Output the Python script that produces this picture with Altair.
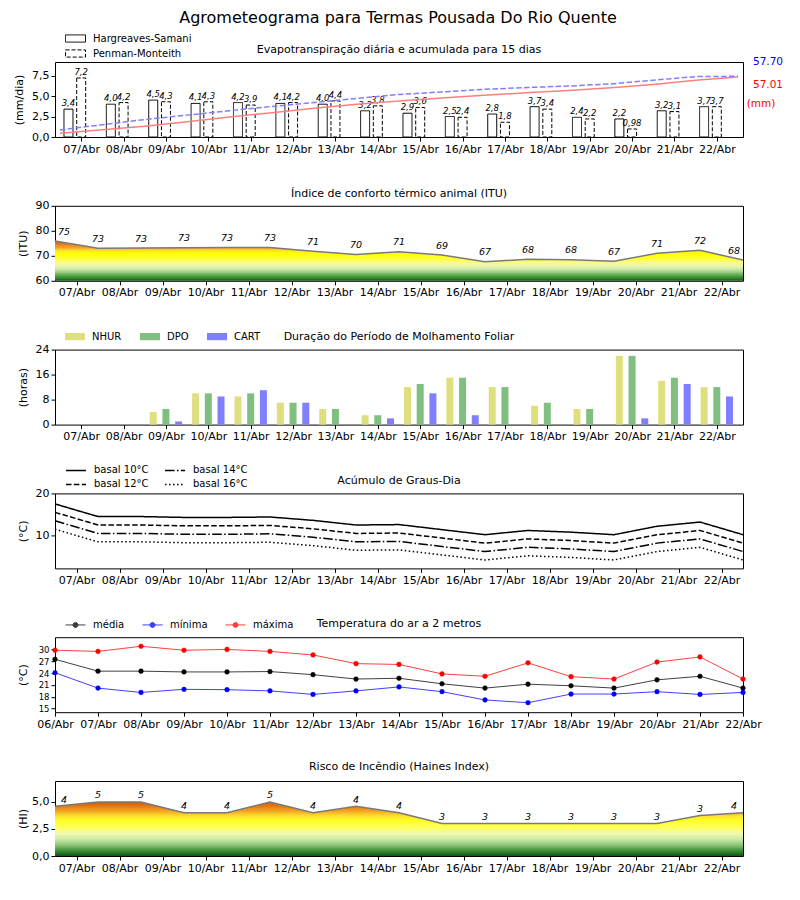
import json
import altair as alt
import pandas as pd

# ---------------- data ----------------
TITULO = "Agrometeograma para Termas Pousada Do Rio Quente"
DIAS = ["07/Abr", "08/Abr", "09/Abr", "10/Abr", "11/Abr", "12/Abr", "13/Abr", "14/Abr",
        "15/Abr", "16/Abr", "17/Abr", "18/Abr", "19/Abr", "20/Abr", "21/Abr", "22/Abr"]
DIAS_T = ["06/Abr"] + DIAS

T1 = "Evapotranspiração diária e acumulada para 15 dias"
ET_SERIES = ["Hargreaves-Samani", "Penman-Monteith"]
ET_HS = [3.4, 4.0, 4.5, 4.1, 4.2, 4.1, 4.0, 3.2, 2.9, 2.5, 2.8, 3.7, 2.4, 2.2, 3.2, 3.7]
ET_PM = [7.2, 4.2, 4.3, 4.3, 3.9, 4.2, 4.4, 3.8, 3.6, 2.4, 1.8, 3.4, 2.2, 0.98, 3.1, 3.7]
ACUM_HS = [3.6, 6.8, 10.2, 14.5, 18.9, 23.1, 27.3, 31.2, 34.3, 37.0, 39.6, 42.0, 44.1, 46.8, 50.0, 54.0, 57.01]
ACUM_PM = [6.7, 11.7, 16.6, 20.8, 25.0, 29.1, 32.7, 36.7, 40.4, 42.8, 45.3, 47.0, 48.4, 50.5, 54.0, 57.4, 57.70]
TOTAL_PM = "57.70"
TOTAL_HS = "57.01"
UNIDADE = "(mm)"

T2 = "Índice de conforto térmico animal (ITU)"
ITU = [75.9, 73.0, 73.1, 73.2, 73.3, 73.3, 71.8, 70.5, 71.6, 70.3, 67.6, 68.6, 68.4, 67.8, 71.0, 72.2, 68.3]
ITU_ROT = [75, 73, 73, 73, 73, 73, 71, 70, 71, 69, 67, 68, 68, 67, 71, 72, 68]

T3 = "Duração do Período de Molhamento Foliar"
MOLH_SERIES = ["NHUR", "DPO", "CART"]
NHUR = [0, 0, 4, 10, 9, 7, 5, 3, 12, 15, 12, 6, 5, 22, 14, 12]
DPO = [0, 0, 5, 10, 10, 7, 5, 3, 13, 15, 12, 7, 5, 22, 15, 12]
CART = [0, 0, 1, 9, 11, 7, 0, 2, 10, 3, 0, 0, 0, 2, 13, 9]

T4 = "Acúmulo de Graus-Dia"
GD_SERIES = ["basal 10°C", "basal 12°C", "basal 14°C", "basal 16°C"]
GD10 = [17.5, 14.5, 14.5, 14.3, 14.3, 14.4, 13.6, 12.5, 12.6, 11.4, 10.2, 11.2, 10.8, 10.2, 12.2, 13.2, 10.2]
GD12 = [15.5, 12.5, 12.5, 12.3, 12.3, 12.4, 11.6, 10.5, 10.6, 9.4, 8.2, 9.2, 8.8, 8.2, 10.2, 11.2, 8.2]
GD14 = [13.5, 10.5, 10.5, 10.3, 10.3, 10.4, 9.6, 8.5, 8.6, 7.4, 6.2, 7.2, 6.8, 6.2, 8.2, 9.2, 6.2]
GD16 = [11.5, 8.5, 8.5, 8.3, 8.3, 8.4, 7.6, 6.5, 6.6, 5.4, 4.2, 5.2, 4.8, 4.2, 6.2, 7.2, 4.2]

T5 = "Temperatura do ar a 2 metros"
TEMP_SERIES = ["média", "mínima", "máxima"]
T_MED = [27.5, 24.5, 24.5, 24.3, 24.3, 24.4, 23.6, 22.5, 22.7, 21.3, 20.2, 21.2, 20.8, 20.2, 22.3, 23.2, 20.2]
T_MIN = [24.1, 20.2, 19.1, 19.9, 19.8, 19.5, 18.6, 19.5, 20.5, 19.3, 17.2, 16.5, 18.7, 18.7, 19.3, 18.6, 19.1]
T_MAX = [29.8, 29.5, 30.8, 29.8, 30.0, 29.5, 28.6, 26.4, 26.2, 23.8, 23.2, 26.6, 23.1, 22.5, 26.8, 28.1, 22.5]

T6 = "Risco de Incêndio (Haines Index)"
HAINES = [4.6, 5.0, 5.0, 4.0, 4.0, 5.0, 4.0, 4.6, 4.0, 3.0, 3.0, 3.0, 3.0, 3.0, 3.0, 3.75, 4.0]
HAINES_ROT = [4, 5, 5, 4, 4, 5, 4, 4, 4, 3, 3, 3, 3, 3, 3, 3, 4]

# ---------------- style ----------------
FONT = "DejaVu Sans"
W, H = 688, 75
RECT = "M-2,-0.72H2V0.72H-2Z"
LINHA = "M-2,0H2"
LINE_DOT = "M-2,0H2M-0.5,0A0.5,0.5,0,1,0,0.5,0A0.5,0.5,0,1,0,-0.5,0Z"
ITU_CORES = [(60, "#0b5a0b"), (61, "#2e862e"), (62.2, "#5aa64a"), (63.4, "#98cc80"),
             (64.6, "#cce8a6"), (66, "#ecf7b0"), (67.5, "#fafb80"), (69, "#ffff30"),
             (71, "#ffff00"), (71.6, "#fff01a"), (72.4, "#fcd22e"), (73.2, "#f3a530"),
             (74.5, "#e8801c"), (75.9, "#d25a0a")]
HAINES_CORES = [(0, "#0b5a0b"), (0.5, "#3f8f3a"), (1.0, "#8cc478"), (1.5, "#c8e6a0"),
                (2.0, "#eef8b8"), (2.6, "#ffff60"), (3.3, "#ffff20"), (3.7, "#fde030"),
                (4.2, "#f2a020"), (4.6, "#e47a14"), (5.0, "#cc5a08")]

N = len(DIAS)
idx17 = list(range(N + 1))
COMMA = "replace(format(datum.value, '.1f'), '.', ',')"


def x_enc(field="x", temp=False):
    if temp:
        vals = list(range(len(DIAS_T)))
        expr = json.dumps(DIAS_T) + "[round(datum.value)]"
    else:
        vals = [i + 0.5 for i in range(N)]
        expr = json.dumps(DIAS) + "[floor(datum.value)]"
    return alt.X(f"{field}:Q", scale=alt.Scale(domain=[0, N], nice=False, zero=False),
                 axis=alt.Axis(title=None, values=vals, labelExpr=expr, grid=False, domain=False,
                               labelFlush=False, labelOverlap=False, tickSize=4, tickColor="black",
                               labelFontSize=11, labelColor="black", labelPadding=2, labelFont=FONT))


def y_axis(title, values, comma=False, fs=11, tx=-32):
    kw = dict(title=title, values=values, grid=False, domain=False, tickSize=4, tickColor="black",
              labelFontSize=fs, labelColor="black", labelPadding=2, labelFont=FONT,
              titleFontSize=11, titleFontWeight="normal", titleColor="black", titleFont=FONT,
              titleX=tx, titleBaseline="middle")
    if comma:
        kw["labelExpr"] = COMMA
    return alt.Axis(**kw)


def texto(txt, xpx, ypx, color="black", size=11):
    return alt.Chart(pd.DataFrame({"t": [txt]})).mark_text(
        font=FONT, fontSize=size, color=color, align="center", baseline="middle"
    ).encode(text="t:N", x=alt.value(xpx), y=alt.value(ypx))


def gradiente(cores, vmin, vmax):
    stops = [alt.GradientStop(offset=min(1, max(0, (vmax - v) / (vmax - vmin))), color=c)
             for v, c in sorted(cores, key=lambda p: -p[0])]
    return alt.LinearGradient(gradient="linear", stops=stops, x1=0, x2=0, y1=0, y2=1)


def leg(**kw):
    base = dict(title=None, orient="none", labelFont=FONT, labelFontSize=10, labelColor="black",
                labelOffset=12, padding=0, rowPadding=3, columnPadding=18, symbolSize=100, legendX=15)
    base.update(kw)
    return alt.Legend(**base)


# ---------------- panel 1 ----------------
df_et = pd.DataFrame({
    "x": [i + 0.2 for i in range(N)] + [i + 0.5 for i in range(N)],
    "v": ET_HS + ET_PM,
    "serie": [ET_SERIES[0]] * N + [ET_SERIES[1]] * N,
})
df_et["rot"] = df_et["v"].map(lambda v: (f"{v:.1f}" if v >= 1 else f"{v:.2f}").replace(".", ","))
y1 = alt.Y("v:Q", scale=alt.Scale(domain=[0, 9.15], nice=False),
           axis=y_axis("(mm/dia)", [0, 2.5, 5, 7.5], comma=True, tx=-36))
bars1 = alt.Chart(df_et).mark_bar(size=9, filled=False, color="black", strokeWidth=1).encode(
    x=x_enc(), y=y1,
    strokeDash=alt.StrokeDash("serie:N", scale=alt.Scale(domain=ET_SERIES, range=[[1, 0], [4, 2]]),
                              legend=leg(legendY=-29, rowPadding=2, symbolType=RECT,
                                         symbolStrokeColor="black", symbolStrokeWidth=1)))
txt1 = alt.Chart(df_et).mark_text(font=FONT, fontSize=8.5, fontStyle="italic", dy=-6,
                                  color="black").encode(x=x_enc(), y=y1, text="rot:N")
yac = alt.Y("v:Q", scale=alt.Scale(domain=[0, 71.3], nice=False), axis=None)
ac_hs = alt.Chart(pd.DataFrame({"x": idx17, "v": ACUM_HS})).mark_line(
    color="#ff7f7f", strokeWidth=1.5).encode(x=x_enc(), y=yac)
ac_pm = alt.Chart(pd.DataFrame({"x": idx17, "v": ACUM_PM})).mark_line(
    color="#7f7fff", strokeWidth=1.5, strokeDash=[5.5, 2.4]).encode(x=x_enc(), y=yac)
p1 = alt.layer(
    alt.layer(bars1, txt1),
    alt.layer(ac_hs, ac_pm),
    texto(T1, W / 2, -12),
    texto(TOTAL_PM, 713, 0, color="blue", size=10.5),
    texto(TOTAL_HS, 713, 23, color="red", size=10.5),
    texto(UNIDADE, 706, 42, color="red", size=10.5),
).resolve_scale(y="independent").properties(width=W, height=H)

# ---------------- panel 2 ----------------
df_itu = pd.DataFrame({"x": idx17, "v": ITU, "base": 60, "rot": [str(r) for r in ITU_ROT]})
df_itu["xr"] = df_itu["x"].clip(0.21, N - 0.21)
yitu = alt.Y("v:Q", scale=alt.Scale(domain=[60, 90], nice=False, zero=False),
             axis=y_axis("(ITU)", [60, 70, 80, 90]))
p2 = alt.layer(
    alt.Chart(df_itu).mark_area(color=gradiente(ITU_CORES, 60, max(ITU))).encode(
        x=x_enc(), y=yitu, y2="base:Q"),
    alt.Chart(df_itu).mark_line(color="#7a7a7a", strokeWidth=1.5).encode(x=x_enc(), y=yitu),
    alt.Chart(df_itu).mark_text(font=FONT, fontSize=9.5, fontStyle="italic", dy=-9.5,
                                color="black").encode(x=x_enc("xr"), y=yitu, text="rot:N"),
    texto(T2, W / 2, -12),
).properties(width=W, height=H)

# ---------------- panel 3 ----------------
rows = []
for s, vals, off in zip(MOLH_SERIES, [NHUR, DPO, CART], [0.2, 0.5, 0.8]):
    for i, v in enumerate(vals):
        rows.append({"x": i + off, "v": v, "serie": s})
df_m = pd.DataFrame(rows)
p3 = alt.layer(
    alt.Chart(df_m).mark_bar(size=7).encode(
        x=x_enc(),
        y=alt.Y("v:Q", scale=alt.Scale(domain=[0, 24], nice=False), axis=y_axis("(horas)", [0, 8, 16, 24])),
        color=alt.Color("serie:N", scale=alt.Scale(domain=MOLH_SERIES, range=["#dfdf7f", "#7fbf7f", "#7f7fff"]),
                        legend=leg(legendY=-18, direction="horizontal", symbolType=RECT,
                                   symbolStrokeWidth=0, symbolOpacity=1, columnPadding=18))),
    texto(T3, W / 2, -13),
).properties(width=W, height=H)

# ---------------- panel 4 ----------------
rows = []
for s, vals in zip(GD_SERIES, [GD10, GD12, GD14, GD16]):
    for i, v in enumerate(vals):
        rows.append({"x": i, "v": v, "serie": s})
df_gd = pd.DataFrame(rows)
dash = [[1, 0], [5.5, 2.4], [9.6, 2.4, 1.5, 2.4], [1.5, 2.5]]
p4 = alt.layer(
    alt.Chart(df_gd).mark_line(color="black", strokeWidth=1.5).encode(
        x=x_enc(),
        y=alt.Y("v:Q", scale=alt.Scale(domain=[2.2, 20], nice=False, zero=False), axis=y_axis("(°C)", [10, 20])),
        strokeDash=alt.StrokeDash("serie:N", scale=alt.Scale(domain=GD_SERIES, range=dash),
                                  legend=leg(legendY=-29, columns=2, columnPadding=13, symbolType=LINHA,
                                             symbolStrokeColor="black", symbolStrokeWidth=1.5))),
    texto(T4, W / 2, -12),
).properties(width=W, height=H)

# ---------------- panel 5 ----------------
rows = []
for s, vals in zip(TEMP_SERIES, [T_MED, T_MIN, T_MAX]):
    for i, v in enumerate(vals):
        rows.append({"x": i, "v": v, "serie": s})
df_t = pd.DataFrame(rows)
cor_t = alt.Scale(domain=TEMP_SERIES, range=["black", "blue", "red"])
leg5 = leg(legendY=-18, direction="horizontal", symbolType=LINE_DOT, symbolStrokeWidth=1, columnPadding=15)
y5 = alt.Y("v:Q", scale=alt.Scale(domain=[14.1, 33.1], nice=False, zero=False),
           axis=y_axis("(°C)", [15, 18, 21, 24, 27, 30], fs=8.5))
p5 = alt.layer(
    alt.Chart(df_t).mark_line(strokeWidth=1, opacity=0.75).encode(
        x=x_enc(temp=True), y=y5, stroke=alt.Stroke("serie:N", scale=cor_t, legend=leg5)),
    alt.Chart(df_t).mark_point(filled=True, shape="circle", size=22, opacity=1, strokeWidth=0.5).encode(
        x=x_enc(temp=True), y=y5,
        fill=alt.Fill("serie:N", scale=cor_t, legend=leg5),
        stroke=alt.Stroke("serie:N", scale=cor_t, legend=leg5)),
    texto(T5, W / 2, -13),
).properties(width=W, height=H)

# ---------------- panel 6 ----------------
df_h = pd.DataFrame({"x": idx17, "v": HAINES, "base": 0, "rot": [str(r) for r in HAINES_ROT]})
df_h["xr"] = df_h["x"].clip(0.21, N - 0.21)
yh = alt.Y("v:Q", scale=alt.Scale(domain=[0, 6.94], nice=False), axis=y_axis("(HI)", [0, 2.5, 5], comma=True))
p6 = alt.layer(
    alt.Chart(df_h).mark_area(color=gradiente(HAINES_CORES, 0, max(HAINES))).encode(
        x=x_enc(), y=yh, y2="base:Q"),
    alt.Chart(df_h).mark_line(color="#7a7a7a", strokeWidth=1.5).encode(x=x_enc(), y=yh),
    alt.Chart(df_h).mark_text(font=FONT, fontSize=9.5, fontStyle="italic", dy=-6.5,
                              color="black").encode(x=x_enc("xr"), y=yh, text="rot:N"),
    texto(T6, W / 2, -14),
).properties(width=W, height=H)

chart = alt.vconcat(
    p1, p2, p3, p4, p5, p6, spacing=68.8, bounds="flush",
    title=alt.TitleParams(TITULO, fontSize=16, font=FONT, fontWeight="normal", anchor="middle",
                          color="black", offset=7),
).resolve_scale(
    x="independent", y="independent", color="independent", strokeDash="independent",
    fill="independent", stroke="independent",
).configure(
    padding={"left": 4, "top": 1, "right": 5, "bottom": 5}
).configure_view(stroke="black", strokeWidth=1)

chart.save("out.html", embed_options={"renderer": "svg", "actions": False})
